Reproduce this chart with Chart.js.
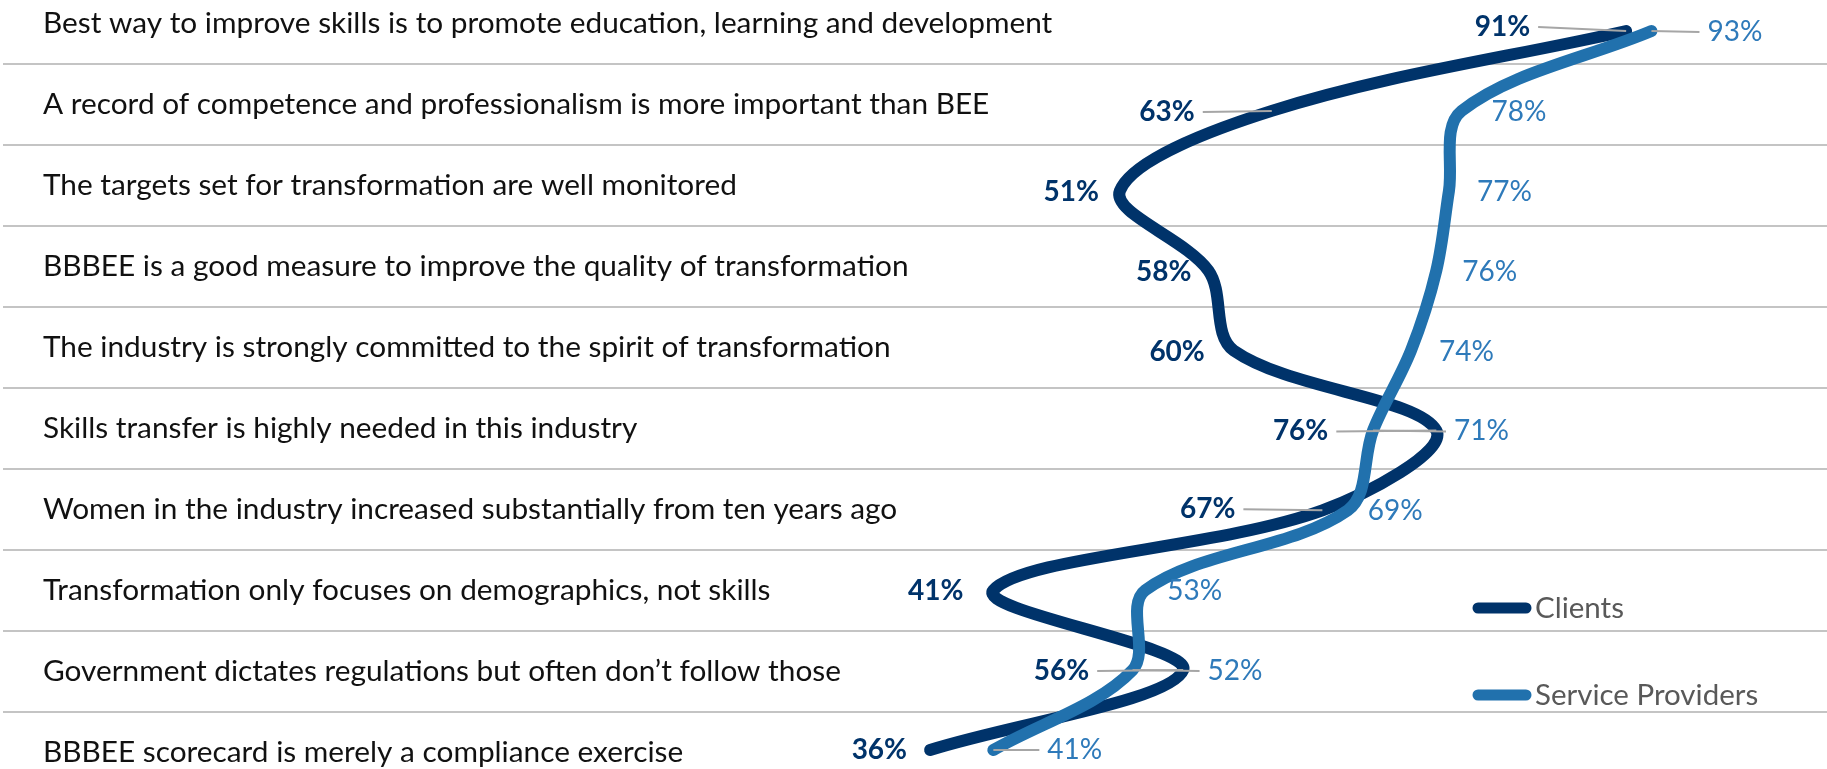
<!DOCTYPE html>
<html>
<head>
<meta charset="utf-8">
<script src="https://cdn.jsdelivr.net/npm/chart.js@4.4.1/dist/chart.umd.min.js"></script>
<style>
  html, body { margin: 0; padding: 0; background: #ffffff; }
  #wrap { width: 1827px; height: 769px; position: relative; }
</style>
</head>
<body>
<div id="wrap"><canvas id="chart"></canvas></div>
<script>
// Survey statements, top to bottom
const statements = [
  'Best way to improve skills is to promote education, learning and development',
  'A record of competence and professionalism is more important than BEE',
  'The targets set for transformation are well monitored',
  'BBBEE is a good measure to improve the quality of transformation',
  'The industry is strongly committed to the spirit of transformation',
  'Skills transfer is highly needed in this industry',
  'Women in the industry increased substantially from ten years ago',
  'Transformation only focuses on demographics, not skills',
  'Government dictates regulations but often don\u2019t follow those',
  'BBBEE scorecard is merely a compliance exercise'
];

// Share of respondents agreeing (%)
const clients = [91, 63, 51, 58, 60, 76, 67, 41, 56, 36];
const serviceProviders = [93, 78, 77, 76, 74, 71, 69, 53, 52, 41];

const seriesNames = ['Clients', 'Service Providers'];

// Value-label placement: gap between point and text, vertical nudge, leader line on/off
const clientLabelGap   = [96, 77, 21, 17, 29, 108, 87, 30, 94, 23];
const clientLabelNudge = [-4, 1, 1, 1, 1, 1, -1, 1, 1, 0];
const clientLeader     = [true, true, false, false, false, true, true, false, true, false];
const providerLabelGap   = [56, 30, 28, 26, 28, 81, 20, 22, 75, 54];
const providerLabelNudge = [1, 1, 1, 1, 1, 1, 1, 1, 1, 0];
const providerLeader     = [true, false, false, false, false, true, false, false, true, true];

const COLORS = {
  clients: '#00336A',
  providers: '#2171AD',
  clientsText: '#00336A',
  providersText: '#2E7ABA',
  grid: '#C4C4C4',
  leader: '#A6A6A6',
  category: '#111111',
  legendText: '#595959'
};
const FONT = 'Lato';

// Value labels with optional leader lines
const valueLabels = {
  id: 'valueLabels',
  afterDatasetsDraw(chart) {
    const ctx = chart.ctx;
    const specs = [
      { ds: 0, side: -1, gap: clientLabelGap, nudge: clientLabelNudge, leader: clientLeader,
        font: 'bold 28px ' + FONT, color: COLORS.clientsText },
      { ds: 1, side: 1, gap: providerLabelGap, nudge: providerLabelNudge, leader: providerLeader,
        font: '28px ' + FONT, color: COLORS.providersText }
    ];
    ctx.save();
    specs.forEach(s => {
      const meta = chart.getDatasetMeta(s.ds);
      const data = chart.data.datasets[s.ds].data;
      meta.data.forEach((pt, i) => {
        const tx = pt.x + s.side * s.gap[i];
        const ty = pt.y + s.nudge[i];
        if (s.leader[i]) {
          ctx.strokeStyle = COLORS.leader;
          ctx.lineWidth = 2;
          ctx.lineCap = 'butt';
          ctx.beginPath();
          ctx.moveTo(tx - s.side * 8, ty);
          ctx.lineTo(pt.x, pt.y);
          ctx.stroke();
        }
        ctx.font = s.font;
        ctx.fillStyle = s.color;
        ctx.textAlign = s.side < 0 ? 'right' : 'left';
        ctx.textBaseline = 'middle';
        ctx.fillText(data[i].x + '%', tx, ty);
      });
    });
    ctx.restore();
  }
};

// Legend block at lower right of the plot
const sideLegend = {
  id: 'sideLegend',
  afterDraw(chart) {
    const ctx = chart.ctx;
    const rows = [608, 695];
    ctx.save();
    chart.data.datasets.forEach((ds, i) => {
      const y = rows[i];
      ctx.strokeStyle = ds.borderColor;
      ctx.lineWidth = 11;
      ctx.lineCap = 'round';
      ctx.beginPath();
      ctx.moveTo(1478, y);
      ctx.lineTo(1526, y);
      ctx.stroke();
      ctx.font = '29.5px ' + FONT;
      ctx.fillStyle = COLORS.legendText;
      ctx.textAlign = 'left';
      ctx.textBaseline = 'middle';
      ctx.fillText(ds.label, 1535, y);
    });
    ctx.restore();
  }
};

new Chart(document.getElementById('chart'), {
  type: 'line',
  data: {
    datasets: [
      {
        label: seriesNames[0],
        data: clients.map((v, i) => ({ x: v, y: i })),
        borderColor: COLORS.clients,
        order: 1
      },
      {
        label: seriesNames[1],
        data: serviceProviders.map((v, i) => ({ x: v, y: i })),
        borderColor: COLORS.providers,
        order: 0
      }
    ].map(d => Object.assign(d, {
      yAxisID: 'yPts',
      xAxisID: 'x',
      borderWidth: 12,
      borderCapStyle: 'round',
      borderJoinStyle: 'round',
      tension: 0.34,
      pointRadius: 0,
      pointHoverRadius: 0,
      fill: false
    }))
  },
  options: {
    indexAxis: 'y',
    responsive: true,
    maintainAspectRatio: false,
    devicePixelRatio: 1,
    animation: false,
    events: [],
    layout: { padding: { left: 3, right: 0, top: 0, bottom: 0 } },
    plugins: {
      legend: { display: false },
      tooltip: { enabled: false }
    },
    scales: {
      x: {
        type: 'linear',
        display: false,
        min: -37.25,
        max: 106.87
      },
      // statement rows: labels inside the plot, separators between rows
      y: {
        type: 'linear',
        position: 'left',
        reverse: true,
        min: -0.294,
        max: 9.205,
        afterBuildTicks: (scale) => {
          scale.ticks = statements.map((_, i) => ({ value: i }));
        },
        afterFit: (scale) => {
          scale.width = 0;
          scale.paddingTop = 0;
          scale.paddingBottom = 0;
        },
        border: { display: false },
        grid: {
          offset: true,
          drawTicks: false,
          color: COLORS.grid,
          lineWidth: 2
        },
        ticks: {
          mirror: true,
          padding: 40,
          autoSkip: false,
          crossAlign: 'near',
          color: COLORS.category,
          font: { family: FONT, size: 29.8 },
          callback: (v) => statements[v]
        }
      },
      // positions of the plotted points
      yPts: {
        type: 'linear',
        display: false,
        reverse: true,
        min: -0.388,
        max: 9.238
      }
    }
  },
  plugins: [valueLabels, sideLegend]
});
</script>
</body>
</html>
